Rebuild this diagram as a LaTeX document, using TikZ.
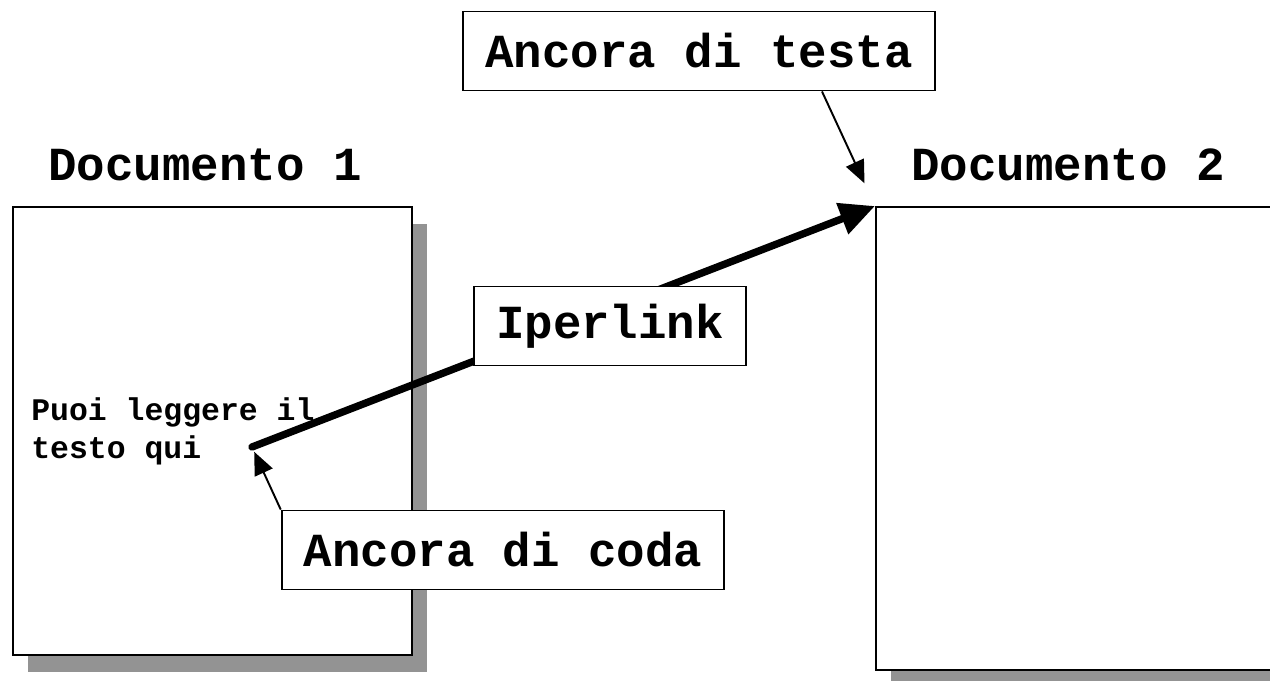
\documentclass[tikz,border=0pt]{standalone}
\usepackage{fontspec}
\newfontfamily\courier{Liberation Mono}
\usetikzlibrary{arrows.meta,positioning,shadows}
\definecolor{ombra}{HTML}{939393}

\begin{document}
\begin{tikzpicture}[
    x=0.2mm,y=-0.2mm,
    pagina/.style={draw,fill=white,line width=1.1pt,anchor=north west,
      drop shadow={shadow xshift=0.3cm,shadow yshift=-0.34cm,fill=ombra,opacity=1}},
    titolo/.style={font=\courier\bfseries\fontsize{27}{32}\selectfont,inner sep=0pt,anchor=west},
    etichetta/.style={draw,fill=white,line width=1.1pt,inner xsep=0.44cm,minimum height=1.58cm,
      font=\courier\bfseries\fontsize{27}{32}\selectfont},
    link/.style={-{Triangle[length=20pt,width=18pt]},line width=4.2pt,line cap=round},
    arrow/.style={-{Triangle[length=13pt,width=11pt]},line width=1.1pt}
  ]
    \clip (0,0) rectangle (1270,680);
    \node[pagina,minimum width=7.98cm,minimum height=8.96cm] (doc1) at (12,206) {};
    \node[pagina,minimum width=9cm,minimum height=9.26cm] (doc2) at (875,206) {};
    \node[titolo] (tit1) at ([xshift=0.72cm,yshift=0.82cm]doc1.north west) {Documento 1};
    \node[titolo] (tit2) at ([xshift=0.72cm,yshift=0.82cm]doc2.north west) {Documento 2};
    \node[anchor=west,align=left,inner sep=0pt,
      font=\courier\bfseries\fontsize{17.9}{21.5}\selectfont] (testo) at (31,431) {Puoi leggere il\\testo qui};
    \coordinate (coda) at (252,447);
    \draw[link] (coda) -- (doc2.north west);
    \node[etichetta] (atesta) at (699,51) {Ancora di testa};
    \node[etichetta] (iperlink) at (610,326) {Iperlink};
    \node[etichetta] (acoda) at (503,550) {Ancora di coda};
    \draw[arrow,shorten >=0.5cm] ([xshift=2.46cm]atesta.south) -- (doc2.north west);
    \draw[arrow,shorten >=3pt] (acoda.north west) -- (coda);
  \end{tikzpicture}
\end{document}
